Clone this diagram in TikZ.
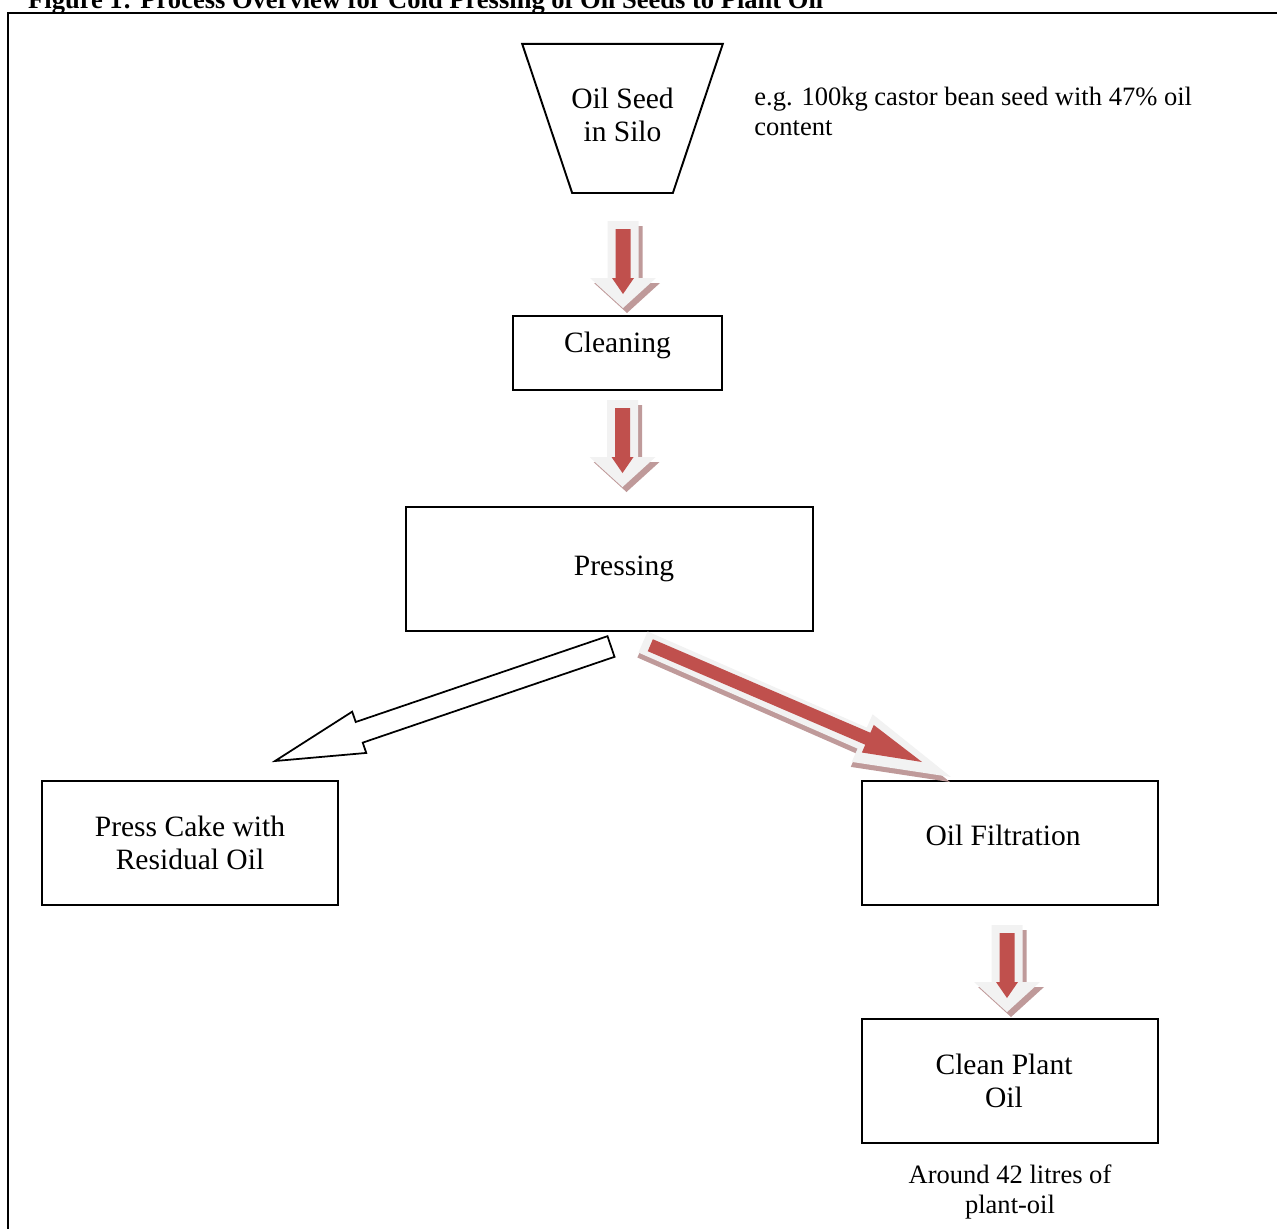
\documentclass[tikz,border=0pt]{standalone}
\usepackage{fontspec}
\setmainfont{Liberation Serif}
\usetikzlibrary{calc}

\definecolor{flowred}{HTML}{C0504D}
\definecolor{flowglow}{HTML}{F2F2F2}
\definecolor{flowshadow}{HTML}{BF9A9A}

% block arrow: style, tail, tip, shaft half width, head half width, head length
\newcommand{\fatarrow}[6]{%
  \coordinate (fah) at ($(#3)!#6!(#2)$);
  \path[#1] ($(#2)!#4!90:(#3)$) -- ($(fah)!#4!90:(#3)$) -- ($(fah)!#5!90:(#3)$) -- (#3)
    -- ($(fah)!#5!-90:(#3)$) -- ($(fah)!#4!-90:(#3)$) -- ($(#2)!#4!-90:(#3)$) -- cycle;}

% red flow arrow with glow and shadow
\newcommand{\flowdown}[2]{%
  \fatarrow{fill=flowshadow, transform canvas={shift={(4,5)}}}{#1}{#2}{0.31cm}{0.66cm}{0.6cm}
  \fatarrow{fill=flowglow}{#1}{#2}{0.31cm}{0.66cm}{0.6cm}
  \coordinate (frt) at ($(#1)!0.16cm!(#2)$);
  \coordinate (frh) at ($(#2)!0.28cm!(#1)$);
  \fatarrow{fill=flowred}{frt}{frh}{0.15cm}{0.22cm}{0.32cm}}

\begin{document}
\begin{tikzpicture}[x=0.02cm, y=-0.02cm,
    every node/.style={font=\fontsize{16.8}{18.7}\selectfont},
    box/.style={draw, line width=1.1pt, align=center, inner sep=0pt},
    note/.style={font=\fontsize{15.1}{17.4}\selectfont, inner sep=0pt}]
    \useasboundingbox (0,0) rectangle (1277,1228);
    \clip (0,0) rectangle (1277,1228);

    \node[anchor=base west, font=\bfseries\fontsize{15.1}{17}\selectfont] (title) at (22,8)
        {Figure 1: Process Overview for Cold Pressing of Oil Seeds to Plant Oil};
    \draw[line width=1.6pt] (8,1240) -- (8,13) -- (1290,13);

    % silo
    \node[align=center, inner sep=0pt, minimum width=4cm, minimum height=2.97cm, text depth=4pt]
        (silo) at (622.5,118.4) {Oil Seed\\in Silo};
    \draw[line width=1.1pt] (silo.north west) -- (silo.north east) -- ([xshift=-1cm]silo.south east)
        -- ([xshift=1cm]silo.south west) -- cycle;
    \node[note, anchor=west, align=left] (seednote) at (754,111.5)
        {e.g. 100kg castor bean seed with 47\% oil\\content};

    \node[box, minimum width=4.18cm, minimum height=1.48cm, text depth=12pt] (clean) at (617.5,353) {Cleaning};
    \node[box, minimum width=8.14cm, minimum height=2.48cm] (press) at (609.5,569) {\hspace*{0.58cm}Pressing};
    \node[box, minimum width=5.92cm, minimum height=2.48cm] (cake) at (190,843) {Press Cake with\\Residual Oil};
    \node[box, minimum width=5.92cm, minimum height=2.48cm, text depth=9pt] (filter) at (1010,843)
        {Oil Filtration\hspace*{0.28cm}};
    \node[box, minimum width=5.92cm, minimum height=2.48cm] (plantoil) at (1010,1081)
        {Clean Plant\hspace*{0.24cm}\\Oil\hspace*{0.24cm}};
    \node[note, align=center] (yieldnote) at (1010,1192) {Around 42 litres of\\plant-oil};

    \coordinate (siloout) at (623,221);
    \coordinate (cleanin) at (623,308);
    \coordinate (cleanout) at (622.5,400);
    \coordinate (pressin) at (622.5,487);
    \coordinate (filterout) at (1007,925);
    \coordinate (plantin) at (1007,1012);
    \coordinate (cakeout) at (611,646.5);
    \coordinate (cakein) at (275,761);
    \coordinate (oilout) at (643,642);
    \coordinate (oilin) at (951,777);
    \coordinate (redout) at (650.3,645.2);
    \coordinate (redin) at (922,762);

    \flowdown{siloout}{cleanin}
    \flowdown{cleanout}{pressin}
    \flowdown{filterout}{plantin}

    % press cake
    \fatarrow{draw, line width=1pt, fill=white, line join=miter}{cakeout}{cakein}{0.218cm}{0.436cm}{1.78cm}
    % oil
    \fatarrow{fill=flowshadow, transform canvas={shift={(-1,5)}}}{oilout}{oilin}{0.23cm}{0.52cm}{1.94cm}
    \fatarrow{fill=flowglow}{oilout}{oilin}{0.23cm}{0.52cm}{1.94cm}
    \fatarrow{fill=flowred}{redout}{redin}{0.13cm}{0.3cm}{1.18cm}
\end{tikzpicture}
\end{document}
